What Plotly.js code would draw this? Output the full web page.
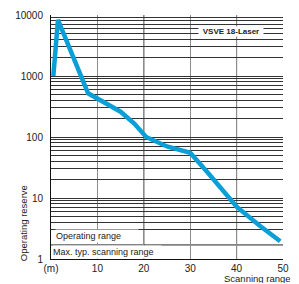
<!DOCTYPE html>
<html><head><meta charset="utf-8">
<script src="https://cdn.plot.ly/plotly-3.0.1.min.js"></script>
<style>html,body{margin:0;padding:0;background:#fff;}#chart{width:299px;height:284px;}</style>
</head><body><div id="chart"></div>
<script>
// Data
const rangeM = [0.5, 1.5, 8, 10, 15, 18, 20.5, 25, 30, 34, 40, 45, 49.4];
const reserve = [1000, 8300, 520, 430, 260, 165, 100, 70, 55, 25, 7.2, 3.5, 1.95];
const xTickVals = [0, 10, 20, 30, 40, 50];
const xTickText = ['(m)', '10', '20', '30', '40', '50'];
const yDecades = [1, 10, 100, 1000, 10000];
const yDecadeText = ['1', '10', '100', '1000', '10000'];
const gridMultipliers = [3, 4, 5, 6, 7, 8, 9];      // lowest decade (2 replaced by separator)
const gridMultipliersUpper = [2, 3, 4, 5, 6, 7, 8, 9];
const darkVerticals = [20, 40];
const separatorValue = 1.7;

const font = 'Liberation Sans, Arial, sans-serif';

// horizontal grid values
const gridVals = [];
yDecades.slice(0, 4).forEach((d, i) => {
  (i === 0 ? gridMultipliers : gridMultipliersUpper).forEach(m => gridVals.push(d * m));
});
const yTickVals = yDecades.concat(gridVals);
const yTickText = yDecadeText.concat(gridVals.map(() => ''));

const shapes = darkVerticals.map(v => ({
  type: 'line', xref: 'x', yref: 'paper', x0: v, x1: v, y0: 0, y1: 1,
  line: {color: '#111', width: 1}, layer: 'below'
}));
shapes.push({type: 'line', xref: 'paper', yref: 'y', x0: 0, x1: 1,
  y0: separatorValue, y1: separatorValue, line: {color: '#222', width: 1}, layer: 'below'});

const trace = {
  x: rangeM, y: reserve, type: 'scatter', mode: 'lines',
  line: {color: '#0a9fd6', width: 4.5},
  hoverinfo: 'skip'
};

const layout = {
  width: 299, height: 284,
  margin: {l: 51, r: 16, t: 15, b: 25},
  paper_bgcolor: '#fff', plot_bgcolor: '#fff',
  showlegend: false,
  font: {family: font, size: 10, color: '#222'},
  xaxis: {
    range: [0, 50], tickmode: 'array', tickvals: xTickVals, ticktext: xTickText,
    showgrid: true, gridcolor: '#8c8c8c', gridwidth: 1,
    zeroline: false, showline: true, linecolor: '#111', linewidth: 1,
    ticks: '', ticklabelstandoff: 0,
    tickfont: {size: 10, family: font, color: '#222'}, fixedrange: true
  },
  yaxis: {
    type: 'log', range: [0, 4], tickmode: 'array', tickvals: yTickVals, ticktext: yTickText,
    showgrid: true, gridcolor: '#333', gridwidth: 1,
    zeroline: false, showline: true, linecolor: '#111', linewidth: 1,
    ticks: '', ticklabelstandoff: 5,
    tickfont: {size: 10, family: font, color: '#222'}, fixedrange: true
  },
  shapes: shapes,
  annotations: [
    {text: 'VSVE 18-Laser', xref: 'paper', yref: 'paper', x: 0.777, y: 0.932,
     xanchor: 'center', yanchor: 'middle', showarrow: false, bgcolor: '#fff',
     font: {family: font, size: 8, color: '#222', weight: 'bold'}, borderpad: 0, width: 64, height: 9},
    {text: 'Operating range', xref: 'paper', yref: 'paper', x: 0.017, y: 0.094,
     xanchor: 'left', yanchor: 'middle', showarrow: false, bgcolor: '#fff', align: 'left',
     font: {family: font, size: 9, color: '#222'}, borderpad: 0, width: 82, height: 12},
    {text: 'Max. typ. scanning range', xref: 'paper', yref: 'paper', x: 0.004, y: 0.029,
     xanchor: 'left', yanchor: 'middle', showarrow: false, bgcolor: '#fff', align: 'left',
     font: {family: font, size: 9, color: '#222'}, borderpad: 0, width: 108, height: 12},
    {text: 'Operating reserve', xref: 'paper', yref: 'paper', x: -0.115, y: 0.148,
     xanchor: 'center', yanchor: 'middle', showarrow: false, textangle: -90,
     font: {family: font, size: 9.5, color: '#222'}},
    {text: 'Scanning range', xref: 'paper', yref: 'paper', x: 1.04, y: -0.1025,
     xanchor: 'right', yanchor: 'bottom', showarrow: false, borderpad: 0, height: 10,
     font: {family: font, size: 9.5, color: '#222'}}
  ]
};

Plotly.newPlot('chart', [trace], layout, {staticPlot: true, displayModeBar: false});
</script></body></html>
